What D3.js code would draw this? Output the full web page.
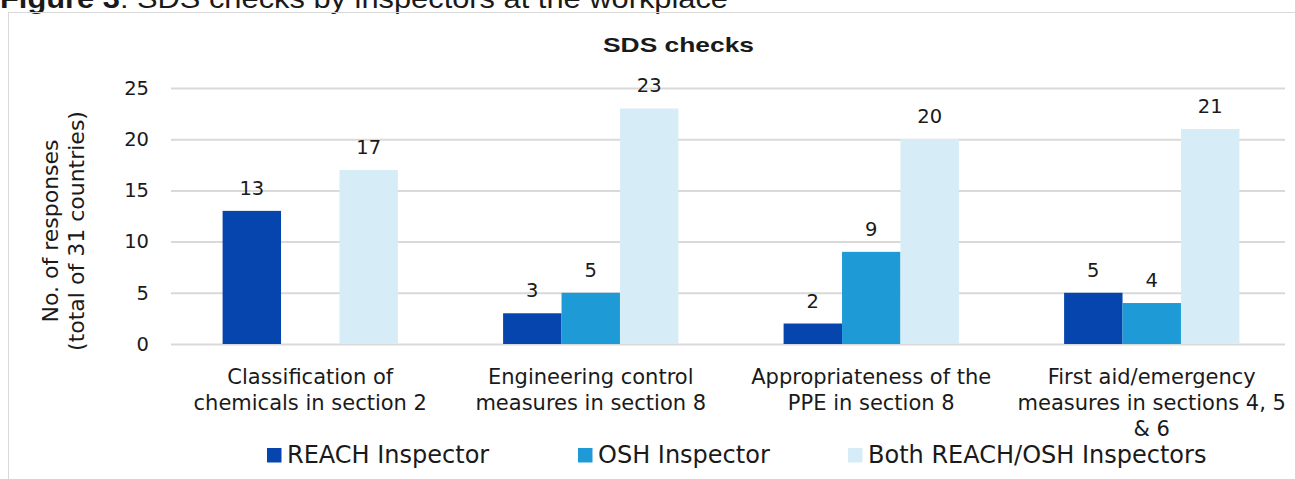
<!DOCTYPE html>
<html>
<head>
<meta charset="utf-8">
<script src="https://cdn.jsdelivr.net/npm/d3@7"></script>
<style>
  body { margin: 0; background: #fff; overflow: hidden; }
  svg text { fill: #1a1a1a; }
</style>
</head>
<body>
<svg id="chart" width="1295" height="479"></svg>
<script>
const categories = [
  ["Classification of", "chemicals in section 2"],
  ["Engineering control", "measures in section 8"],
  ["Appropriateness of the", "PPE in section 8"],
  ["First aid/emergency", "measures in sections 4, 5", "& 6"]
];
const seriesNames = ["REACH Inspector", "OSH Inspector", "Both REACH/OSH Inspectors"];
const reachValues = [13, 3, 2, 5];
const oshValues = [null, 5, 9, 4];
const bothValues = [17, 23, 20, 21];
const yTicks = [0, 5, 10, 15, 20, 25];
const colors = ["#0645ad", "#1e9ad6", "#d6edf8"];

const series = [reachValues, oshValues, bothValues];
const svg = d3.select('#chart');
const labelFont = 'DejaVu Sans, Verdana, sans-serif';

// caption above the frame (cut off at the top in the original)
const cap = svg.append('text')
    .attr('x', 0)
    .attr('y', 8)
    .attr('textLength', 728)
    .attr('lengthAdjust', 'spacingAndGlyphs')
    .style('font-family', 'Liberation Sans, Arial, sans-serif')
    .style('font-size', '28px');
cap.append('tspan').style('font-weight', 'bold').text('Figure 3');
cap.append('tspan').text(': SDS checks by inspectors at the workplace');

// chart frame
svg.append('rect')
    .attr('x', 8.5)
    .attr('y', 12.5)
    .attr('width', 1300)
    .attr('height', 500)
    .attr('fill', 'none')
    .attr('stroke', '#d9d9d9');

const x0 = d3.scaleBand()
    .domain(d3.range(categories.length))
    .range([170, 1292])
    .paddingInner(0.375)
    .paddingOuter(0.1875);

const x1 = d3.scaleBand()
    .domain(d3.range(series.length))
    .range([0, x0.bandwidth()]);

const y = d3.scaleLinear()
    .domain([0, 25])
    .range([344, 88]);

// gridlines
svg.append('g')
    .attr('transform', 'translate(171,0)')
    .call(d3.axisLeft(y).tickValues(yTicks).tickSize(-1114).tickFormat(''))
    .call(g => g.select('.domain').remove())
    .selectAll('line')
    .attr('stroke', '#d9d9d9')
    .attr('stroke-width', 2);

// y tick labels
svg.append('g')
    .attr('transform', 'translate(171,0)')
    .call(d3.axisLeft(y).tickValues(yTicks).tickSize(0).tickPadding(22))
    .call(g => g.select('.domain').remove())
    .selectAll('text')
    .style('font-family', labelFont)
    .style('font-size', '19.5px')
    .attr('fill', '#1a1a1a');

// bars
series.forEach((vals, si) => {
    const g = svg.append('g');
    vals.forEach((v, ci) => {
        if (v == null) return;
        const bx = x0(ci) + x1(si);
        g.append('rect')
            .attr('x', bx)
            .attr('y', y(v))
            .attr('width', x1.bandwidth())
            .attr('height', y(0) - y(v))
            .attr('fill', colors[si]);
        g.append('text')
            .attr('x', bx + x1.bandwidth() / 2)
            .attr('y', y(v) - 16)
            .attr('text-anchor', 'middle')
            .style('font-family', labelFont)
            .style('font-size', '19.5px')
            .text(v);
    });
});

// category labels
categories.forEach((lines, ci) => {
    const t = svg.append('text')
        .attr('text-anchor', 'middle')
        .style('font-family', labelFont)
        .style('font-size', '21px');
    lines.forEach((ln, li) => {
        t.append('tspan')
            .attr('x', x0(ci) + x0.bandwidth() / 2)
            .attr('y', 384 + li * 26)
            .text(ln);
    });
});

// title
svg.append('text')
    .attr('x', 603)
    .attr('y', 52)
    .attr('textLength', 151)
    .attr('lengthAdjust', 'spacingAndGlyphs')
    .style('font-family', 'Liberation Sans, Arial, sans-serif')
    .style('font-weight', 'bold')
    .style('font-size', '21px')
    .text('SDS checks');

// y axis title
const yt = svg.append('text')
    .attr('transform', 'translate(0,231) rotate(-90)')
    .attr('text-anchor', 'middle')
    .style('font-family', labelFont)
    .style('font-size', '22px');
yt.append('tspan').attr('x', 0).attr('y', 57.5).text('No. of responses');
yt.append('tspan').attr('x', 0).attr('y', 84).text('(total of 31 countries)');

// legend
const legendX = [267, 578, 848];
seriesNames.forEach((name, i) => {
    svg.append('rect')
        .attr('x', legendX[i])
        .attr('y', 448)
        .attr('width', 14.5)
        .attr('height', 14.5)
        .attr('fill', colors[i]);
    svg.append('text')
        .attr('x', legendX[i] + 20)
        .attr('y', 462.5)
        .style('font-family', labelFont)
        .style('font-size', '24px')
        .text(name);
});
</script>
</body>
</html>
